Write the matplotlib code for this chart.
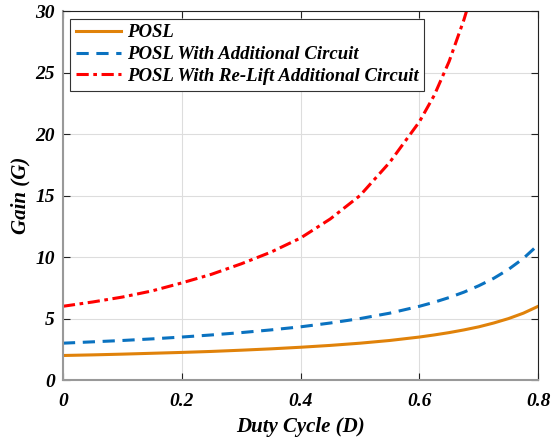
import matplotlib
matplotlib.use('Agg')
import matplotlib.pyplot as plt

# duty cycle samples
D = [0, 0.05, 0.1, 0.15, 0.2, 0.25, 0.3, 0.35, 0.4, 0.45, 0.5, 0.55, 0.6,
     0.625, 0.65, 0.675, 0.7, 0.725, 0.75, 0.775, 0.8]
posl = [2.0, 2.05, 2.11, 2.18, 2.25, 2.33, 2.43, 2.54, 2.67, 2.82, 3.0, 3.22, 3.5,
        3.67, 3.86, 4.08, 4.33, 4.64, 5.0, 5.44, 6.0]
posl_add = [3.0, 3.11, 3.22, 3.35, 3.5, 3.67, 3.86, 4.08, 4.33, 4.64, 5.0, 5.44, 6.0,
            6.33, 6.71, 7.15, 7.67, 8.27, 9.0, 9.89, 11.0]
D_relift = D[:17]
posl_relift = [6.0, 6.35, 6.75, 7.25, 7.9, 8.6, 9.45, 10.4, 11.55, 13.1, 15.0, 17.7, 21.0,
               23.15, 25.9, 29.3, 33.3]

labels = ['POSL', 'POSL With Additional Circuit', 'POSL With Re-Lift Additional Circuit']

plt.rcParams['font.family'] = ['Liberation Serif', 'DejaVu Serif']
plt.rcParams['font.weight'] = 'bold'
plt.rcParams['font.style'] = 'italic'

fig = plt.figure(figsize=(5.52, 4.43), dpi=100)
ax = fig.add_axes([0.114, 0.142, 0.861, 0.833])

ax.plot(D, posl, color='#E0820A', lw=2.2, label=labels[0])
ax.plot(D, posl_add, color='#0A72C0', lw=2.2, ls=(0, (4, 2.5)), label=labels[1])
ax.plot(D_relift, posl_relift, color='#FF0000', lw=2.2, ls=(0, (4, 1.5, 1.2, 1.5)), label=labels[2])

ax.set_xlim(0, 0.8)
ax.set_ylim(0, 30)
ax.set_xticks([0, 0.2, 0.4, 0.6, 0.8])
ax.set_xticklabels(['0', '0.2', '0.4', '0.6', '0.8'])
ax.set_yticks([0, 5, 10, 15, 20, 25, 30])
ax.grid(True, color='#DDDDDD', lw=0.8)
ax.tick_params(direction='in', top=True, right=True, labelsize=14, length=5, color='#222222')
ax.tick_params(axis='x', pad=9)
ax.tick_params(axis='y', pad=6)
for side in ['left', 'bottom']:
    ax.spines[side].set_color('#999999')
    ax.spines[side].set_linewidth(1.5)
for side in ['top', 'right']:
    ax.spines[side].set_color('#222222')
    ax.spines[side].set_linewidth(0.8)

ax.set_xlabel('Duty Cycle (D)', fontsize=15, fontweight='bold', labelpad=5)
ax.set_ylabel('Gain (G)', fontsize=15, fontweight='bold', labelpad=3)

leg = ax.legend(loc='upper left', fontsize=13.5, fancybox=False, framealpha=1,
                edgecolor='#333333', handlelength=2.4, borderpad=0.3, labelspacing=0.25,
                handletextpad=0.3, borderaxespad=0.4)
leg.get_frame().set_linewidth(0.8)

fig.savefig('out.png', dpi=100)
